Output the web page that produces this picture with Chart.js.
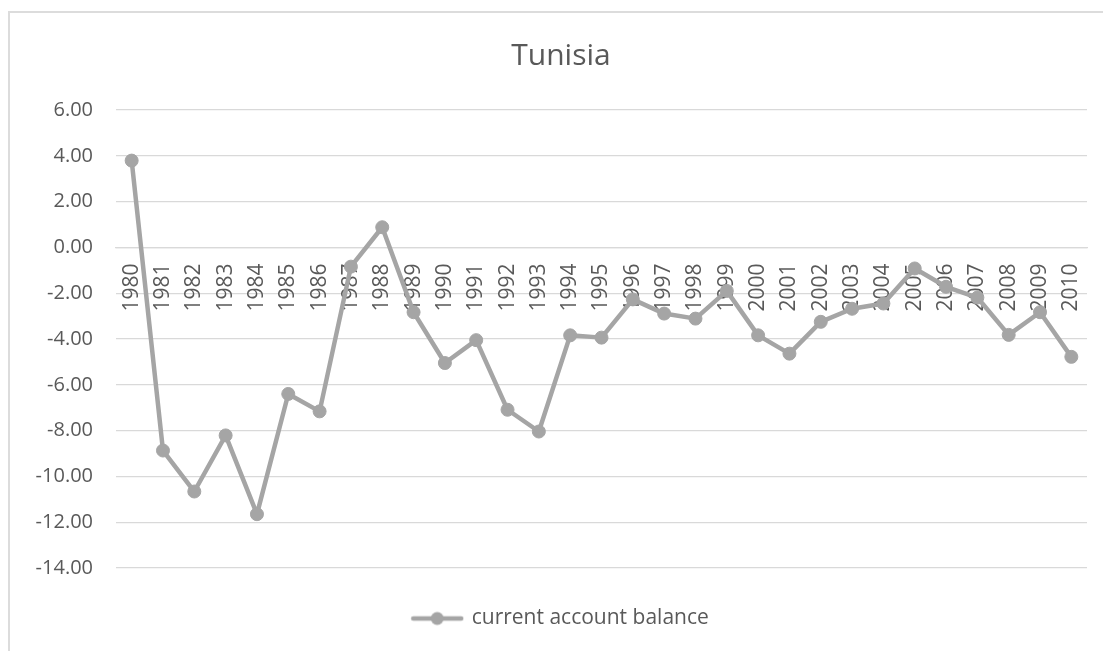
<!DOCTYPE html>
<html>
<head>
<meta charset="utf-8">
<title>Tunisia – current account balance</title>
<script src="https://cdn.jsdelivr.net/npm/chart.js@4/dist/chart.umd.min.js"></script>
<style>
  html, body { margin: 0; padding: 0; background: #ffffff; overflow: hidden; }
  body { width: 1103px; height: 651px; position: relative; }
  #frame {
    position: absolute; left: 8px; top: 11px; width: 1120px; height: 660px;
    border: 2px solid #dcdcdc; box-sizing: border-box; pointer-events: none;
  }
  #chart { position: absolute; left: 0; top: 0; }
</style>
</head>
<body>
<canvas id="chart" width="1122" height="651"></canvas>
<div id="frame"></div>
<script>
// Tunisia, current account balance (% of GDP), 1980–2010
const years = ['1980','1981','1982','1983','1984','1985','1986','1987','1988','1989',
               '1990','1991','1992','1993','1994','1995','1996','1997','1998','1999',
               '2000','2001','2002','2003','2004','2005','2006','2007','2008','2009','2010'];
const balance = [3.79, -8.87, -10.66, -8.21, -11.65, -6.40, -7.16, -0.84, 0.88, -2.83,
                 -5.05, -4.05, -7.09, -8.04, -3.84, -3.94, -2.27, -2.89, -3.11, -1.90,
                 -3.84, -4.64, -3.25, -2.68, -2.45, -0.92, -1.72, -2.19, -3.82, -2.83, -4.78];
const seriesName = 'current account balance';
const chartTitle = 'Tunisia';
const yMin = -14, yMax = 6, yStep = 2;

const lineColor = '#a5a5a5';
const textColor = '#595959';
const gridColor = '#d9d9d9';
const fontFamily = "'Open Sans', 'Noto Sans', sans-serif";

// Legend symbol: short line with a marker in the middle
const legendSymbol = document.createElement('canvas');
legendSymbol.width = 54;
legendSymbol.height = 16;
(function () {
  const c = legendSymbol.getContext('2d');
  c.strokeStyle = lineColor;
  c.lineWidth = 4.5;
  c.lineCap = 'round';
  c.beginPath();
  c.moveTo(3, 8);
  c.lineTo(51, 8);
  c.stroke();
  c.fillStyle = lineColor;
  c.beginPath();
  c.arc(27, 8, 6.5, 0, Math.PI * 2);
  c.fill();
})();

new Chart(document.getElementById('chart'), {
  type: 'line',
  data: {
    labels: years,
    datasets: [{
      label: seriesName,
      data: balance,
      borderColor: lineColor,
      backgroundColor: lineColor,
      borderWidth: 4.5,
      borderJoinStyle: 'round',
      borderCapStyle: 'round',
      pointRadius: 6.5,
      pointHoverRadius: 6.5,
      pointBackgroundColor: lineColor,
      pointBorderColor: lineColor,
      pointBorderWidth: 1,
      tension: 0,
      clip: false
    }]
  },
  options: {
    responsive: false,
    animation: false,
    layout: { padding: { top: 0, right: 0, bottom: 12, left: 0 } },
    plugins: {
      tooltip: { enabled: false },
      title: {
        display: true,
        text: chartTitle,
        color: textColor,
        font: { family: fontFamily, size: 30, weight: 'normal', lineHeight: 1.2 },
        padding: { top: 38, bottom: 36 }
      },
      legend: {
        display: true,
        position: 'bottom',
        title: { display: true, text: '', font: { size: 30, lineHeight: 1 }, padding: 0 },
        labels: {
          usePointStyle: true,
          pointStyle: legendSymbol,
          pointStyleWidth: 48,
          color: textColor,
          font: { family: fontFamily, size: 21 },
          padding: 10
        }
      }
    },
    scales: {
      x: {
        type: 'category',
        position: { y: 0 },
        offset: true,
        grid: { display: false, drawTicks: false },
        border: { display: true, color: gridColor, width: 1.3 },
        ticks: {
          autoSkip: false,
          minRotation: 90,
          maxRotation: 90,
          padding: 16,
          color: textColor,
          font: { family: fontFamily, size: 21 }
        }
      },
      y: {
        min: yMin,
        max: yMax,
        grid: { color: gridColor, lineWidth: 1.3, drawTicks: false },
        border: { display: false },
        ticks: {
          stepSize: yStep,
          padding: 23,
          color: textColor,
          font: { family: fontFamily, size: 20 },
          callback: (v) => Number(v).toFixed(2)
        },
        afterFit: (scale) => { scale.width = 116; }
      },
      // empty right-hand margin of the plot area
      yRight: {
        position: 'right',
        min: yMin,
        max: yMax,
        grid: { display: false, drawTicks: false },
        border: { display: false },
        ticks: { display: false },
        afterFit: (scale) => { scale.width = 35; }
      }
    }
  }
});
</script>
</body>
</html>
